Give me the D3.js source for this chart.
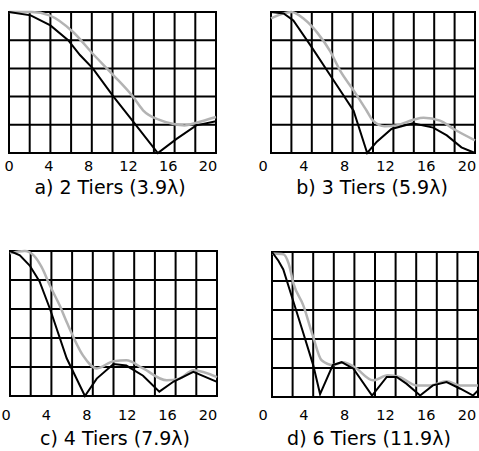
<!DOCTYPE html>
<html>
<head>
<meta charset="utf-8">
<script src="https://cdn.jsdelivr.net/npm/d3@7"></script>
<style>
  body { margin: 0; background: #fff; }
  text { font-family: "DejaVu Sans", Verdana, sans-serif; fill: #000; }
</style>
</head>
<body>
<div id="chart"></div>
<script>
// values: [x, relative level]
const titles = ["a) 2 Tiers (3.9\u03bb)", "b) 3 Tiers (5.9\u03bb)", "c) 4 Tiers (7.9\u03bb)", "d) 6 Tiers (11.9\u03bb)"];
const tickLabels = [0, 4, 8, 12, 16, 20];

const tiers2Black = [[0,1],[2.2,0.976],[4.2,0.905],[6.0,0.80],[7.2,0.695],[8.5,0.60],[10.6,0.40],[12.4,0.24],[15.1,0],[17.0,0.10],[19.0,0.196],[21,0.225]];
const tiers2Gray = [[0,1],[2.3,1],[4.1,0.976],[6.5,0.858],[8.5,0.704],[10.6,0.551],[12.6,0.397],[13.6,0.303],[15.2,0.236],[16.7,0.205],[17.8,0.195],[19.0,0.215],[21,0.255]];

const tiers3Black = [[0,1],[1.3,0.99],[2.3,0.94],[4.1,0.76],[6.3,0.53],[8.5,0.30],[9.9,0],[10.9,0.08],[12.4,0.17],[14.6,0.21],[16.7,0.18],[18.1,0.125],[19.6,0.04],[21,0]];
const tiers3Gray = [[0,0.955],[2.1,1],[3.4,0.95],[4.8,0.85],[6.1,0.72],[7.1,0.586],[8.5,0.444],[9.85,0.30],[10.5,0.23],[11.7,0.19],[12.9,0.196],[14.65,0.236],[15.7,0.25],[17.4,0.23],[18.8,0.17],[21,0.09]];

const tiers4Black = [[0,1],[1.0,0.97],[2.0,0.90],[3.0,0.79],[4.06,0.60],[5.75,0.26],[7.6,0],[8.8,0.12],[10.5,0.22],[11.8,0.21],[13.5,0.14],[15.15,0.03],[16.6,0.10],[18.6,0.166],[21,0.097]];
const tiers4Gray = [[0,0.984],[1.5,1],[2.4,0.97],[3.2,0.89],[4.06,0.76],[5.07,0.62],[5.75,0.51],[7.4,0.28],[8.8,0.19],[10.5,0.24],[11.8,0.246],[13.5,0.19],[15.9,0.108],[17.2,0.12],[18.6,0.177],[21,0.13]];

const tiers6Black = [[0,1],[0.65,0.94],[1.15,0.88],[1.8,0.74],[3.1,0.46],[4.2,0.22],[4.9,0.02],[6.2,0.22],[7.1,0.24],[8.3,0.195],[10.2,0.01],[11.7,0.138],[12.7,0.138],[13.7,0.092],[15.1,0.01],[16.4,0.08],[17.8,0.103],[19.2,0.057],[20.5,0.01],[21,0.046]];
const tiers6Gray = [[0,0.99],[1.15,0.985],[1.7,0.92],[2.2,0.78],[3.2,0.63],[4.15,0.425],[5.06,0.253],[6.2,0.22],[7.27,0.24],[8.4,0.207],[10.3,0.115],[11.8,0.15],[13.0,0.138],[14.75,0.08],[16.1,0.08],[17.8,0.108],[19.2,0.08],[21,0.08]];

const blackSeries = [tiers2Black, tiers3Black, tiers4Black, tiers6Black];
const graySeries = [tiers2Gray, tiers3Gray, tiers4Gray, tiers6Gray];

// where each panel sits on the page
const layout = [
  {left: 9,   right: 216, top: 12,  bottom: 153, lab0: 9,   lab20: 208, tickY: 171, titleX: 110, titleY: 194},
  {left: 271, right: 475, top: 12,  bottom: 153, lab0: 263, lab20: 467, tickY: 171, titleX: 372, titleY: 194},
  {left: 10,  right: 217, top: 251, bottom: 396, lab0: 6,   lab20: 208, tickY: 420, titleX: 115, titleY: 445},
  {left: 272, right: 478, top: 252, bottom: 397, lab0: 263, lab20: 467, tickY: 420, titleX: 369, titleY: 445}
];

const svg = d3.select("#chart").append("svg")
    .attr("width", 479)
    .attr("height", 451);

layout.forEach((p, i) => {
    const x = d3.scaleLinear().domain([0, 21]).range([p.left, p.right]);
    const y = d3.scaleLinear().domain([0, 1]).range([p.bottom, p.top]);
    const xl = d3.scaleLinear().domain([0, 20]).range([p.lab0, p.lab20]);

    const g = svg.append("g");

    // grid: 10 columns, 5 rows
    g.selectAll(".vg")
        .data(d3.range(11).map(k => k * 2.1))
        .enter().append("line")
        .attr("x1", d => x(d)).attr("x2", d => x(d))
        .attr("y1", y(0)).attr("y2", y(1))
        .attr("stroke", "#000").attr("stroke-width", 2);

    g.selectAll(".hg")
        .data(d3.range(6).map(k => k * 0.2))
        .enter().append("line")
        .attr("x1", x(0) - 1).attr("x2", x(21) + 1)
        .attr("y1", d => y(d)).attr("y2", d => y(d))
        .attr("stroke", "#000").attr("stroke-width", 2);

    const line = d3.line().x(d => x(d[0])).y(d => y(d[1]));

    g.append("path")
        .attr("d", line.curve(d3.curveMonotoneX)(graySeries[i]))
        .attr("fill", "none")
        .attr("stroke", "#b3b3b3")
        .attr("stroke-width", 2.5);

    g.append("path")
        .attr("d", line.curve(d3.curveLinear)(blackSeries[i]))
        .attr("fill", "none")
        .attr("stroke", "#000")
        .attr("stroke-width", 2);

    g.selectAll(".tick")
        .data(tickLabels)
        .enter().append("text")
        .attr("x", d => xl(d))
        .attr("y", p.tickY)
        .attr("text-anchor", "middle")
        .style("font-size", "14.5px")
        .text(d => d);

    g.append("text")
        .attr("x", p.titleX)
        .attr("y", p.titleY)
        .attr("text-anchor", "middle")
        .style("font-size", "19px")
        .text(titles[i]);
});
</script>
</body>
</html>
